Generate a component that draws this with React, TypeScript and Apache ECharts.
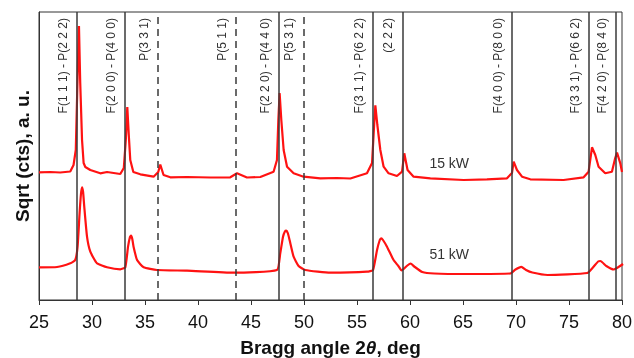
import React, { useEffect, useRef } from "react";
import * as echarts from "echarts";

// 15 kW pattern: [2θ (deg), sqrt(cts) a.u.]
const curve15kW: [number, number][] = [
  [25.0, 127.7], [26.07, 128], [27.0, 127.5], [27.95, 128.5], [28.26, 135], [28.47, 150],
  [28.61, 210], [28.77, 274], [28.89, 217], [29.06, 160], [29.21, 137], [29.37, 133],
  [29.84, 130], [30.78, 126.7], [31.42, 128], [32.67, 126], [33.0, 132], [33.19, 160],
  [33.33, 193], [33.47, 165], [33.61, 140], [33.9, 128], [34.56, 125.7], [35.81, 123.3],
  [36.25, 128], [36.44, 135.5], [36.75, 125], [37.39, 122.7], [38.96, 123], [41.16, 122.5],
  [43.05, 122.7], [43.68, 126.7], [44.62, 122.5], [45.88, 123], [47.13, 128.3], [47.45, 140],
  [47.58, 180], [47.7, 207], [47.86, 180], [48.08, 150], [48.4, 133.3], [49.02, 126.7],
  [49.96, 123.3], [51.54, 121.7], [53.11, 122], [54.37, 121.5], [55.94, 126.7], [56.42, 137],
  [56.59, 170], [56.73, 194.7], [56.92, 175], [57.2, 150], [57.51, 133.3], [57.98, 126.7],
  [58.77, 124], [59.25, 128.3], [59.46, 146.7], [59.77, 130], [60.34, 123.3], [61.92, 121.7],
  [65.06, 120], [67.26, 120.7], [69.15, 121.7], [69.62, 127], [69.78, 138.3], [70.09, 130],
  [70.57, 123.3], [71.35, 120.7], [74.49, 120], [76.38, 122.7], [76.85, 128.3], [77.17, 152.7],
  [77.48, 145], [77.79, 133.3], [78.42, 126.7], [79.05, 128.3], [79.36, 142], [79.53, 147.3],
  [79.84, 136.7], [80.0, 128],
];

// 51 kW pattern
const curve51kW: [number, number][] = [
  [25.0, 32.7], [26.7, 33], [27.95, 36.7], [28.42, 40], [28.64, 53.3], [28.83, 87],
  [28.96, 106], [29.06, 112.7], [29.16, 108], [29.27, 93.3], [29.53, 63.3], [29.84, 48.3],
  [30.47, 36.7], [31.42, 32.7], [32.67, 30.7], [33.14, 32.7], [33.4, 53.3], [33.58, 63],
  [33.68, 64.3], [33.8, 61], [33.92, 53.3], [34.25, 40], [34.87, 32.7], [36.13, 30],
  [38.96, 29.3], [43.36, 27.3], [47.45, 30], [47.76, 46.7], [48.02, 63.3], [48.2, 68.5],
  [48.33, 69.3], [48.47, 67], [48.64, 60], [49.02, 43.3], [49.49, 34], [50.12, 30],
  [52.48, 27.3], [55.94, 28.3], [56.51, 30], [56.89, 50], [57.15, 60], [57.29, 61.7],
  [57.45, 60], [57.83, 53.3], [58.45, 40], [58.9, 34], [59.21, 29.5], [59.75, 34.5],
  [60.06, 36.5], [60.4, 33.5], [61.16, 28], [62.29, 26.5], [65.38, 26], [69.46, 26.5],
  [69.95, 30.5], [70.5, 33.2], [70.95, 30], [71.54, 27.5], [72.98, 25], [76.73, 27],
  [77.3, 33], [77.75, 38.5], [77.96, 39], [78.52, 34], [79.21, 30.5], [80.1, 36],
];

const solidLines = [28.55, 33.1, 47.6, 56.5, 59.27, 69.6, 76.9, 79.4];
const dashedLines = [36.2, 43.55, 49.93];

const lineLabelTexts = [
  "F(1 1 1) - P(2 2 2)", "F(2 0 0) - P(4 0 0)", "P(3 3 1)", "P(5 1 1)",
  "F(2 2 0) - P(4 4 0)", "P(5 3 1)", "F(3 1 1) - P(6 2 2)", "(2 2 2)",
  "F(4 0 0) - P(8 0 0)", "F(3 3 1) - P(6 6 2)", "F(4 2 0) - P(8 4 0)",
];
const lineLabelAt = [28.55, 33.1, 36.2, 43.55, 47.6, 49.93, 56.5, 59.27, 69.6, 76.9, 79.4];

const seriesNames = ["15 kW", "51 kW"];
const seriesNameAt: [number, number][] = [[63.7, 137], [63.7, 46]];

const xTicks = { min: 25, max: 80, interval: 5 };

export default function App() {
  const ref = useRef<HTMLDivElement>(null);
  useEffect(() => {
    if (!ref.current) return;
    const chart = echarts.init(ref.current, null, { renderer: "svg" });
    const font = "Liberation Sans, Arial, sans-serif";
    const red = "#ff1212";
    chart.setOption({
      animation: false,
      textStyle: { fontFamily: font },
      grid: {
        left: 39, right: 12, top: 12, bottom: 58,
        outerBoundsMode: "none", containLabel: false,
        show: true, borderColor: "#333", borderWidth: 1,
      },
      xAxis: {
        type: "value",
        min: xTicks.min, max: xTicks.max, interval: xTicks.interval,
        name: "Bragg angle 2{i|θ}, deg",
        nameLocation: "middle",
        nameGap: 38,
        nameTextStyle: {
          fontFamily: font, fontSize: 19, fontWeight: "bold", color: "#111",
          rich: { i: { fontFamily: font, fontSize: 19, fontWeight: "bold", fontStyle: "italic", color: "#111" } },
        },
        axisLine: { show: true, lineStyle: { color: "#333", width: 1 } },
        axisTick: { show: true, length: 5, lineStyle: { color: "#333" } },
        axisLabel: { fontFamily: font, fontSize: 18, color: "#111", margin: 13 },
        splitLine: { show: false },
      },
      yAxis: {
        type: "value", min: 0, max: 288,
        name: "Sqrt (cts), a. u.",
        nameLocation: "middle",
        nameGap: 7,
        nameTextStyle: { fontFamily: font, fontSize: 19, fontWeight: "bold", color: "#111" },
        axisLine: { show: true, lineStyle: { color: "#333" } },
        axisTick: { show: false },
        axisLabel: { show: false },
        splitLine: { show: false },
      },
      series: [
        {
          type: "line", name: seriesNames[0], data: curve15kW, showSymbol: false,
          smooth: false, lineStyle: { color: red, width: 2.2 }, z: 3,
        },
        {
          type: "line", name: seriesNames[1], data: curve51kW, showSymbol: false,
          smooth: 0.15, lineStyle: { color: red, width: 2.2 }, z: 3,
        },
        {
          type: "line", data: [], z: 4,
          markLine: {
            silent: true, symbol: ["none", "none"], label: { show: false },
            data: [
              ...solidLines.map((v) => ({ xAxis: v, lineStyle: { color: "#3a3a3a", width: 1.5, type: "solid" } })),
              ...dashedLines.map((v) => ({ xAxis: v, lineStyle: { color: "#3a3a3a", width: 1.5, type: [7, 5] } })),
            ],
          },
        },
      ],
    });
    const graphics: any[] = [];
    lineLabelTexts.forEach((t, i) => {
      const p = chart.convertToPixel({ gridIndex: 0 }, [lineLabelAt[i], 0]) as number[];
      graphics.push({
        type: "text", x: p[0] - 14, y: 18, rotation: Math.PI / 2,
        style: { text: t, fontFamily: font, fontSize: 12, fill: "#333", align: "right", verticalAlign: "middle" },
      });
    });
    seriesNames.forEach((t, i) => {
      const p = chart.convertToPixel({ gridIndex: 0 }, seriesNameAt[i]) as number[];
      graphics.push({
        type: "text", x: p[0], y: p[1],
        style: { text: t, fontFamily: font, fontSize: 14, fill: "#333", align: "center", verticalAlign: "middle" },
      });
    });
    chart.setOption({ graphic: graphics });
    return () => chart.dispose();
  }, []);
  return <div ref={ref} style={{ position: "fixed", left: 0, top: 0, width: 634, height: 358 }} />;
}
